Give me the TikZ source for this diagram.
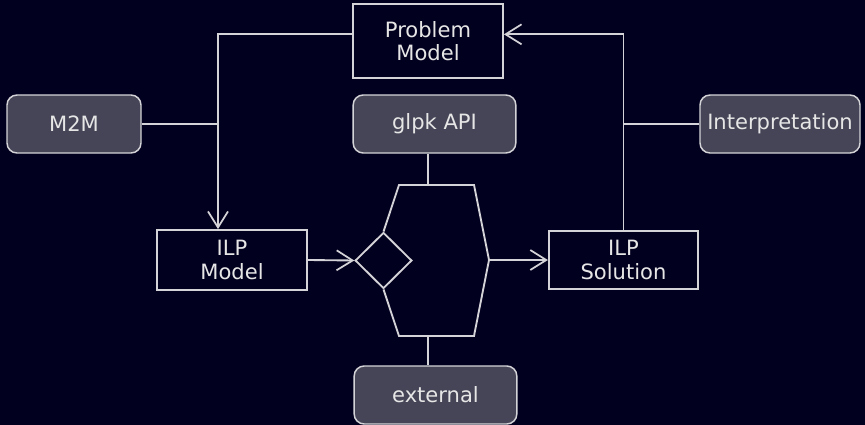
\documentclass[tikz,border=0pt]{standalone}
\usepackage{fontspec}
\setmainfont{DejaVu Sans}
\usetikzlibrary{arrows.meta,shapes.geometric}
\definecolor{nightbg}{HTML}{02001F}
\definecolor{boxgray}{HTML}{454557}
\definecolor{wire}{HTML}{D4D4D8}
\definecolor{ink}{HTML}{E6E6E6}

\begin{document}
\begin{tikzpicture}[x=0.75pt,y=-0.75pt,line width=1.4pt,draw=wire,text=ink,
  font=\fontsize{15.8pt}{17.5pt}\selectfont,
  plainbox/.style={draw=wire,align=center,inner sep=0pt},
  roundbox/.style={draw=wire,fill=boxgray,rounded corners=7.5pt,line width=1.1pt,minimum height=43.5pt,inner sep=0pt},
  arr/.style={-{Straight Barb[length=12pt,width=15pt,line width=1.3pt]}}]
\fill[nightbg] (0,0) rectangle (865,425);
\useasboundingbox (0,0) rectangle (865,425);
\node[plainbox,minimum width=112.5pt,minimum height=55.5pt] (problem) at (428,41) {Problem\\Model};
\node[roundbox,minimum width=100.5pt] (m2m) at (74,124) {M2M};
\node[roundbox,minimum width=122pt] (glpk) at (434.5,124) {glpk API};
\node[roundbox,minimum width=120pt] (interp) at (780,124) {Interpretation};
\node[plainbox,minimum width=112.5pt,minimum height=45pt] (model) at (232,260) {ILP\\Model};
\node[plainbox,minimum width=112pt,minimum height=44pt] (solution) at (623.5,260) {ILP\\Solution};
\node[roundbox,minimum width=122pt] (external) at (435.5,395) {external};
\node[draw=wire,diamond,aspect=1,inner sep=0pt,minimum width=42.5pt,minimum height=42pt] (choice) at (383.5,260.5) {};
\coordinate (top) at (428,185);
\coordinate (bot) at (428,336);
\coordinate (out) at (489,260);
\coordinate (drop) at ([xshift=-10.5pt]model.north);
\draw (choice.north) -- (399,185) -- (474,185) -- (out) -- (474,336) -- (399,336) -- (choice.south);
\draw (top) -- (top |- glpk.south);
\draw (bot) -- (bot |- external.north);
\draw[arr] (model.east) -- (choice.west);
\draw[arr] (out) -- (solution.west);
\draw[arr] (solution.north) |- ([yshift=5pt]problem.east);
\draw (interp.west) -- (interp.west -| solution.north);
\draw[arr] ([yshift=5pt]problem.west) -| (drop);
\draw (m2m.east) -- (m2m.east -| drop);
\end{tikzpicture}
\end{document}
